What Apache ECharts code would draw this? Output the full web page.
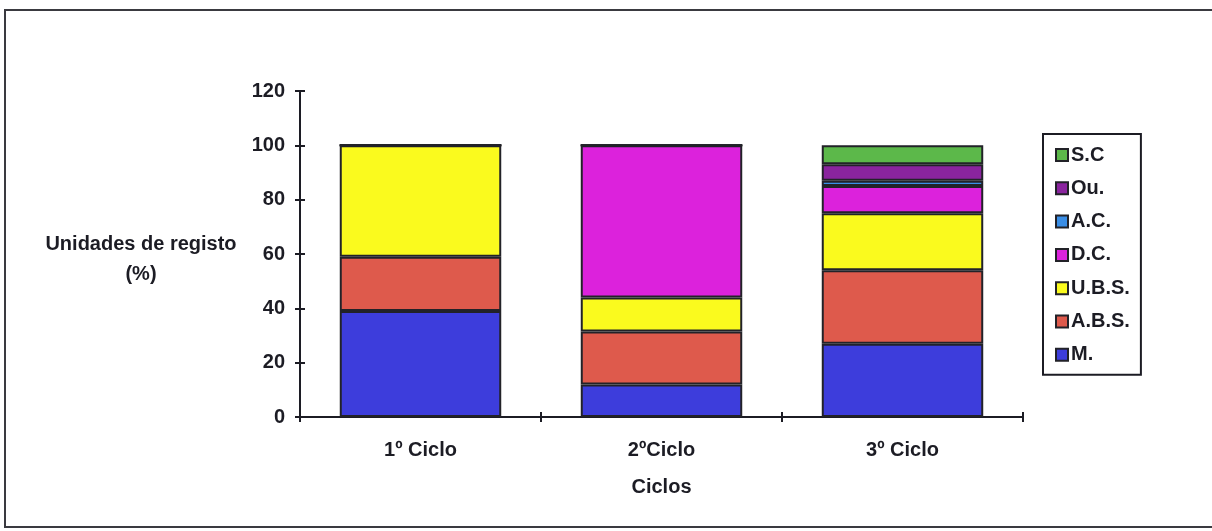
<!DOCTYPE html>
<html>
<head>
<meta charset="utf-8">
<script src="https://cdn.jsdelivr.net/npm/echarts@6/dist/echarts.min.js"></script>
<style>
  html, body { margin: 0; padding: 0; background: #fff; }
  #chart { width: 1212px; height: 531px; }
</style>
</head>
<body>
<div id="chart"></div>
<script>
// Categories (school cycles)
const ciclos = ['1º Ciclo', '2ºCiclo', '3º Ciclo'];

// Percentage of registration units per category, stacked bottom to top
const serieM   = [39, 12, 27];
const serieABS = [20, 19.5, 27];
const serieUBS = [41, 12.5, 21];
const serieDC  = [0, 56, 10];
const serieAC  = [0, 0, 2];
const serieOu  = [0, 0, 6];
const serieSC  = [0, 0, 7];

const yTicks = [0, 20, 40, 60, 80, 100, 120];

const seriesDefs = [
  { name: 'M.',     data: serieM,   color: '#3d3ddc' },
  { name: 'A.B.S.', data: serieABS, color: '#de5a4c' },
  { name: 'U.B.S.', data: serieUBS, color: '#fafa1e' },
  { name: 'D.C.',   data: serieDC,  color: '#dc22dc' },
  { name: 'A.C.',   data: serieAC,  color: '#3a8ee6' },
  { name: 'Ou.',    data: serieOu,  color: '#8a249e' },
  { name: 'S.C',    data: serieSC,  color: '#5cb84a' }
];

const yTitle = ['Unidades de registo', '(%)'];

const font = '"Liberation Sans", Arial, sans-serif';
const ink = '#1c1c24';
const fs = 20;

const chart = echarts.init(document.getElementById('chart'), null, { renderer: 'canvas' });

chart.setOption({
  animation: false,
  backgroundColor: '#ffffff',
  textStyle: { fontFamily: font },
  graphic: [
    {
      type: 'rect',
      shape: { x: 5, y: 10, width: 1215, height: 517 },
      style: { fill: 'none', stroke: '#3a3a40', lineWidth: 2 },
      silent: true
    },
    {
      // value axis title, two centred lines left of the tick labels
      type: 'text',
      x: 141,
      y: 259,
      silent: true,
      style: {
        text: yTitle.join('\n'),
        font: 'bold ' + fs + 'px ' + font,
        fill: ink,
        align: 'center',
        verticalAlign: 'middle',
        lineHeight: 30
      }
    }
  ],
  legend: {
    orient: 'vertical',
    left: 1043,
    top: 134,
    padding: [11, 11, 10, 12],
    itemGap: 13.3,
    itemWidth: 12,
    itemHeight: 12,
    borderColor: ink,
    borderWidth: 2,
    data: ['S.C', 'Ou.', 'A.C.', 'D.C.', 'U.B.S.', 'A.B.S.', 'M.'],
    textStyle: { fontFamily: font, fontWeight: 'bold', fontSize: fs, lineHeight: 20, color: ink, padding: [0, 0, 0, -2] },
    icon: 'rect'
  },
  grid: { left: 300, right: 189, top: 91, bottom: 114, containLabel: false },
  xAxis: [
    {
      type: 'category',
      data: ciclos,
      name: 'Ciclos',
      nameLocation: 'middle',
      nameGap: 60,
      nameTextStyle: { fontFamily: font, fontWeight: 'bold', fontSize: fs, color: ink },
      axisLine: { lineStyle: { color: ink, width: 2 } },
      axisTick: { show: true, length: 5, lineStyle: { color: ink, width: 2 } },
      axisLabel: { fontFamily: font, fontWeight: 'bold', fontSize: fs, color: ink, margin: 23 }
    },
    {
      type: 'category',
      data: ciclos,
      position: 'bottom',
      axisLine: { show: false },
      axisTick: { show: true, inside: true, length: 5, lineStyle: { color: ink, width: 2 } },
      axisLabel: { show: false }
    }
  ],
  yAxis: [
    {
      type: 'value',
      min: yTicks[0],
      max: yTicks[yTicks.length - 1],
      interval: 20,
      axisLine: { show: true, lineStyle: { color: ink, width: 2 } },
      axisTick: { show: true, length: 5, lineStyle: { color: ink, width: 2 } },
      axisLabel: { fontFamily: font, fontWeight: 'bold', fontSize: fs, color: ink, margin: 15 },
      splitLine: { show: false }
    },
    {
      type: 'value',
      min: yTicks[0],
      max: yTicks[yTicks.length - 1],
      interval: 20,
      position: 'left',
      axisLine: { show: false },
      axisTick: { show: true, inside: true, length: 5, lineStyle: { color: ink, width: 2 } },
      axisLabel: { show: false },
      splitLine: { show: false }
    }
  ],
  series: seriesDefs.map(s => ({
    name: s.name,
    type: 'bar',
    stack: 'total',
    barCategoryGap: '33%',
    data: s.data,
    itemStyle: { color: s.color, borderColor: '#222228', borderWidth: 2 }
  }))
});
</script>
</body>
</html>
